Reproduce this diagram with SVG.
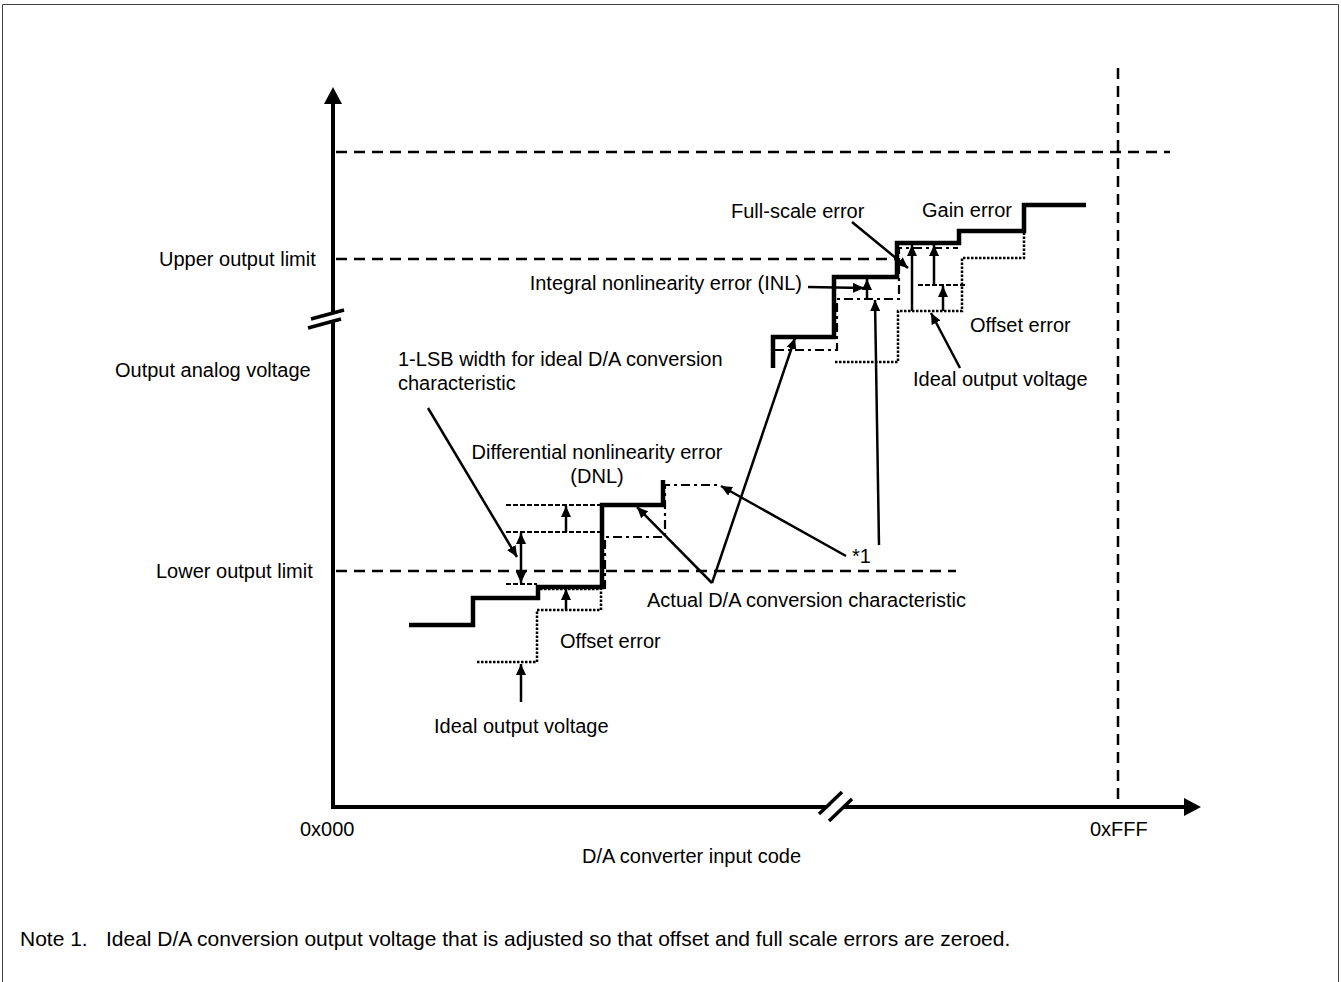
<svg xmlns="http://www.w3.org/2000/svg" width="1341" height="982" viewBox="0 0 1341 982">
<defs>
<style>
text{font-family:"Liberation Sans",Arial,sans-serif;font-size:20px;fill:#000}
.note{font-size:21px}
.ax{stroke:#000;stroke-width:4;fill:none}
.act{stroke:#000;stroke-width:4.5;fill:none;stroke-linejoin:miter}
.ideal{stroke:#000;stroke-width:2.5;fill:none;stroke-dasharray:2.5 1.5}
.adj{stroke:#000;stroke-width:2.2;fill:none;stroke-dasharray:9 4 3 4}
.lim{stroke:#000;stroke-width:2.5;fill:none;stroke-dasharray:11 7}
.ref{stroke:#000;stroke-width:2.2;fill:none;stroke-dasharray:5 2}
.arr{stroke:#000;stroke-width:2.5;fill:none;marker-end:url(#ah)}
</style>
<marker id="ah" markerUnits="userSpaceOnUse" markerWidth="11" markerHeight="10" refX="11" refY="5" orient="auto">
<path d="M0,0 L11,5 L0,10 z" fill="#000"/>
</marker>
<marker id="ahs" markerUnits="userSpaceOnUse" markerWidth="11" markerHeight="10" refX="0" refY="5" orient="auto">
<path d="M11,0 L0,5 L11,10 z" fill="#000"/>
</marker>
</defs>
<rect width="1341" height="982" fill="#fff"/>
<path d="M2.5,982 V4.5 H1338.5 V982" fill="none" stroke="#444" stroke-width="1"/>

<g id="axes">
<line class="ax" x1="333" y1="808" x2="333" y2="102"/>
<path d="M324,104 L333,87 L342,104 z" fill="#000"/>
<line class="ax" x1="331" y1="807" x2="1186" y2="807"/>
<path d="M1184,798 L1201,807 L1184,816 z" fill="#000"/>
<polygon points="312,320 345,311 343,320 310,329" fill="#fff"/>
<line x1="311" y1="319" x2="344" y2="310" stroke="#000" stroke-width="3.5"/>
<line x1="308" y1="328" x2="341" y2="319" stroke="#000" stroke-width="3.5"/>
<polygon points="822,813 844,793 852,799 830,819" fill="#fff"/>
<line x1="819" y1="814" x2="842" y2="792" stroke="#000" stroke-width="3.5"/>
<line x1="829" y1="821" x2="852" y2="799" stroke="#000" stroke-width="3.5"/>
</g>

<g id="limits">
<line class="lim" x1="336" y1="152" x2="1170" y2="152"/>
<line class="lim" x1="336" y1="259" x2="895" y2="259"/>
<line class="lim" x1="336" y1="571" x2="956" y2="571"/>
<line class="lim" x1="1118" y1="68" x2="1118" y2="805"/>
</g>

<g id="actual-low">
<polyline class="act" points="409,625 473,625 473,598 538,598 538,587 602,587 602,505 663,505 663,480"/>
</g>
<g id="ideal-low">
<polyline class="ideal" points="477,662 537,662 537,610 601,610 601,587"/>
<polyline class="ideal" points="540,589 600,589"/>
</g>
<g id="adjusted-low">
<polyline class="adj" points="605,589 605,537 665,537 665,485 720,485"/>
</g>
<g id="dnl-refs">
<line class="ref" x1="506" y1="505" x2="600" y2="505"/>
<line class="ref" x1="506" y1="532" x2="600" y2="532"/>
<line class="ref" x1="506" y1="584" x2="537" y2="584"/>
</g>

<g id="actual-high">
<polyline class="act" points="773,368 773,337 834,337 834,277 897,277 897,243 959,243 959,231 1024,231 1024,205 1086,205"/>
</g>
<g id="ideal-high">
<polyline class="ideal" points="835,362 898,362 898,311 962,311 962,258 1024,258 1024,232"/>
</g>
<g id="adjusted-high">
<polyline class="adj" points="775,350 837,350 837,299 899,299 899,248 958,248"/>
</g>
<g id="gain-ref">
<line class="ref" x1="918" y1="285" x2="967" y2="285"/>
</g>

<g id="connectors">
<line class="arr" x1="428" y1="408" x2="517" y2="557"/>
<line x1="521" y1="533" x2="521" y2="583" stroke="#000" stroke-width="2.5" marker-start="url(#ahs)" marker-end="url(#ah)"/>
<line class="arr" x1="566" y1="532" x2="566" y2="506"/>
<line class="arr" x1="566" y1="610" x2="566" y2="589"/>
<line class="arr" x1="521" y1="702" x2="521" y2="664"/>
<line class="arr" x1="712" y1="583" x2="637" y2="507"/>
<line class="arr" x1="712" y1="583" x2="795" y2="338"/>
<line class="arr" x1="846" y1="556" x2="721" y2="486"/>
<line class="arr" x1="879" y1="545" x2="875" y2="300"/>
<line class="arr" x1="808" y1="287" x2="864" y2="288"/>
<line class="arr" x1="867" y1="298" x2="867" y2="279"/>
<line class="arr" x1="852" y1="222" x2="908" y2="268"/>
<line class="arr" x1="912" y1="311" x2="912" y2="245"/>
<line class="arr" x1="934" y1="285" x2="934" y2="245"/>
<line class="arr" x1="943" y1="311" x2="943" y2="286"/>
<line class="arr" x1="960" y1="368" x2="931" y2="313"/>
</g>

<g id="labels">
<text x="159" y="266">Upper output limit</text>
<text x="115" y="377">Output analog voltage</text>
<text x="156" y="578">Lower output limit</text>
<text x="398" y="366">1-LSB width for ideal D/A conversion</text>
<text x="398" y="390">characteristic</text>
<text x="597" y="459" text-anchor="middle">Differential nonlinearity error</text>
<text x="597" y="483" text-anchor="middle">(DNL)</text>
<text x="852" y="563">*1</text>
<text x="647" y="607">Actual D/A conversion characteristic</text>
<text x="560" y="648">Offset error</text>
<text x="434" y="733">Ideal output voltage</text>
<text x="731" y="218">Full-scale error</text>
<text x="922" y="217">Gain error</text>
<text x="802" y="290" text-anchor="end">Integral nonlinearity error (INL)</text>
<text x="970" y="332">Offset error</text>
<text x="913" y="386">Ideal output voltage</text>
<text x="300" y="836">0x000</text>
<text x="1090" y="836">0xFFF</text>
<text x="582" y="863">D/A converter input code</text>
<text class="note" x="20" y="946">Note 1.<tspan x="106">Ideal D/A conversion output voltage that is adjusted so that offset and full scale errors are zeroed.</tspan></text>
</g>
</svg>
